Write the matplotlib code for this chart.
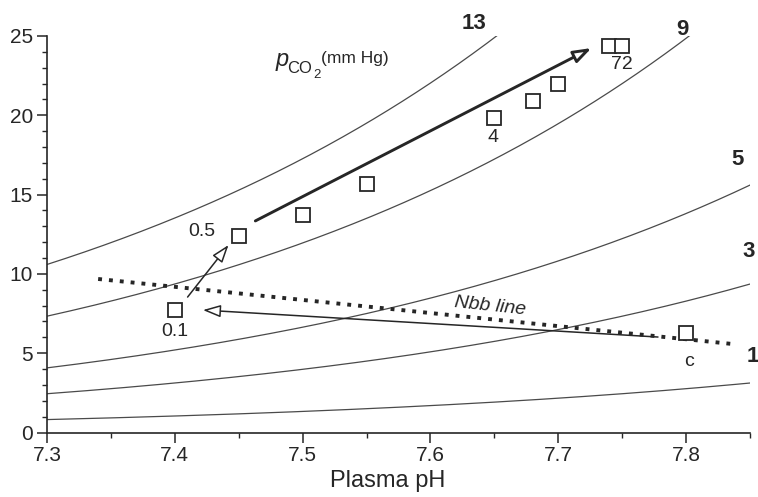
import matplotlib
matplotlib.use('Agg')
import matplotlib.pyplot as plt
import numpy as np


def setup_pyplot():
    plt.rcParams['font.family'] = 'Liberation Sans'
    plt.rcParams['xtick.direction'] = 'out'
    plt.rcParams['ytick.direction'] = 'out'
    plt.rcParams['font.size'] = 15


INK = '#262626'

# measured points (plasma pH, HCO3-)
ph = [7.40, 7.45, 7.50, 7.55, 7.65, 7.68, 7.70, 7.74, 7.75, 7.80]
hco3 = [7.75, 12.4, 13.7, 15.65, 19.85, 20.9, 22.0, 24.35, 24.35, 6.25]

# labels of some points: (index, text, offset in points)
point_labels = [(0, '0.1', (0, -16)),
                (1, '0.5', (-17, 3)),
                (4, '4', (-1, -14)),
                (7, '72', (9, -13)),
                (9, 'c', (2, -20))]

# PCO2 isopleths (mm Hg), Henderson-Hasselbalch with pH dependent pK'
pco2 = [1, 3, 5, 9, 13]
alpha = 0.06
pk0 = 6.167
pk_slope = 0.06
iso_label_xy = [(7.8525, 4.8), (7.849, 11.4), (7.840, 17.2), (7.797, 25.4), (7.634, 25.8)]

# non-bicarbonate buffer line
nbb_ph = [7.34, 7.84]
nbb_hco3 = [9.68, 5.55]

# arrows: (start, end, linewidth)
arrows = [((7.778, 6.02), (7.422, 7.72), 1.1),
          ((7.410, 8.54), (7.442, 11.82), 1.1),
          ((7.463, 13.34), (7.726, 24.24), 2.1)]


if __name__ == '__main__':
    setup_pyplot()

    fig = plt.figure(figsize=(7.58, 4.97), dpi=100)
    ax = fig.add_axes([47 / 758, 1 - 432.5 / 497, 703 / 758, 396.5 / 497])

    x = np.linspace(7.3, 7.85, 300)
    pk = pk0 - pk_slope * (x - 7.3)
    for p in pco2:
        ax.plot(x, alpha * p * 10 ** (x - pk), color='#4a4a4a', lw=0.9)
    for p, (lx, ly) in zip(pco2, iso_label_xy):
        ax.text(lx, ly, str(p), fontsize=16, fontweight='bold', color=INK,
                ha='center', va='center')

    ax.plot(nbb_ph, nbb_hco3, color=INK, lw=2.8, linestyle=(0, (1, 1.8)),
            dash_capstyle='butt')
    ax.text(7.6464, 7.98, 'Nbb line', fontsize=14, style='italic', color=INK,
            ha='center', va='center', rotation=-6)

    for start, end, lw in arrows:
        ax.annotate('', xy=end, xytext=start,
                    arrowprops=dict(arrowstyle='-|>,head_length=0.72,head_width=0.25',
                                    mutation_scale=15, fc='white', ec=INK, lw=lw,
                                    shrinkA=0, shrinkB=0))

    ax.plot(ph, hco3, 's', mfc='white', mec=INK, ms=9.5, mew=1.3,
            clip_on=False, zorder=5)
    for i, txt, off in point_labels:
        xi, yi = ph[i], hco3[i]
        ha = 'right' if off[0] < -5 else 'center'
        ax.annotate(txt, (xi, yi), xytext=off, textcoords='offset points',
                    fontsize=14, color=INK, ha=ha, va='center')

    # p_CO2 (mm Hg) label
    anchor = (7.4787, 23.11)
    ax.annotate('p', anchor, fontsize=17, style='italic', color=INK,
                ha='left', va='baseline')
    ax.annotate('CO', anchor, xytext=(8.5, -5), textcoords='offset points',
                fontsize=12, color=INK, ha='left', va='baseline')
    ax.annotate('2', anchor, xytext=(27, -8.5), textcoords='offset points',
                fontsize=9.5, color=INK, ha='left', va='baseline')
    ax.annotate('(mm Hg)', anchor, xytext=(33, 2), textcoords='offset points',
                fontsize=12.5, color=INK, ha='left', va='baseline')

    ax.set_xlim(7.3, 7.85)
    ax.set_ylim(0, 25)
    ax.set_xticks(np.arange(7.3, 7.81, 0.1))
    ax.set_xticks(np.arange(7.3, 7.86, 0.05), minor=True)
    ax.set_xticklabels(['7.3', '7.4', '7.5', '7.6', '7.7', '7.8'])
    ax.set_yticks([0, 5, 10, 15, 20, 25])
    ax.set_yticks(np.arange(0, 26, 1), minor=True)
    ax.tick_params(which='major', length=7, width=1.1, colors=INK, labelsize=15, pad=3)
    ax.tick_params(which='minor', length=3.5, width=1.0, colors=INK)
    for side in ['top', 'right']:
        ax.spines[side].set_visible(False)
    for side in ['left', 'bottom']:
        ax.spines[side].set_linewidth(1.2)
        ax.spines[side].set_color(INK)

    ax.set_xlabel('Plasma pH', fontsize=17, color=INK)
    ax.xaxis.set_label_coords(0.485, -0.095)

    fig.savefig('out.png', dpi=100)
